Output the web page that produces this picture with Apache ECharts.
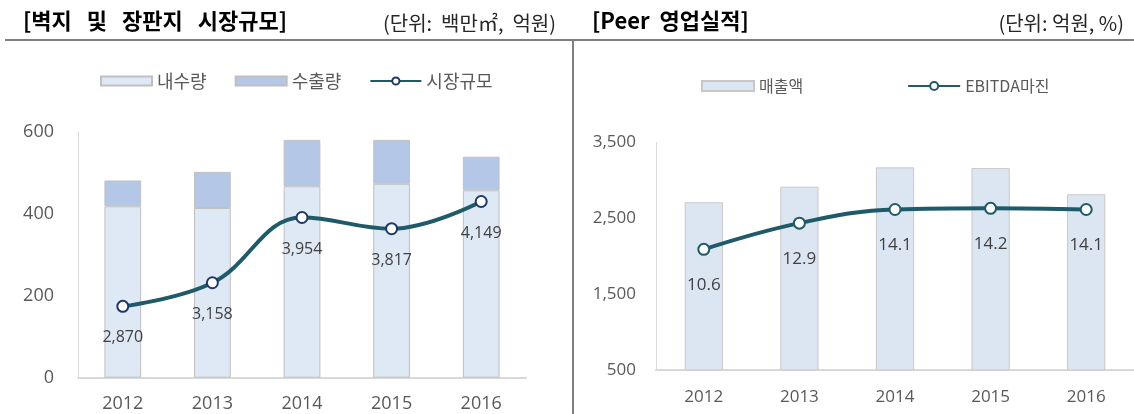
<!DOCTYPE html>
<html>
<head>
<meta charset="utf-8">
<script src="https://cdn.jsdelivr.net/npm/echarts@6/dist/echarts.min.js"></script>
<style>
  html, body { margin: 0; padding: 0; background: #fff; }
  #chart { width: 1134px; height: 414px; }
</style>
</head>
<body>
<div id="chart"></div>
<script>
// 데이터
const years = ['2012', '2013', '2014', '2015', '2016'];
const domestic = [418, 414, 467, 473, 457];      // 내수량 (백만㎡)
const exports = [63, 88, 113, 107, 82];          // 수출량 (백만㎡)
const marketSize = [2870, 3158, 3954, 3817, 4149]; // 시장규모 (억원)
const sales = [2710, 2915, 3170, 3160, 2815];    // 매출액 (억원)
const ebitdaMargin = [10.6, 12.9, 14.1, 14.2, 14.1]; // EBITDA마진 (%)

const leftTicks = [0, 200, 400, 600];
const rightTicks = [500, 1500, 2500, 3500];

const numFont = "'Open Sans', 'Noto Sans CJK KR', sans-serif";
const krFont = "'Noto Sans CJK KR', sans-serif";
const gray = '#595959';
const lineColor = '#1F5A68';

const chart = echarts.init(document.getElementById('chart'));

function fmt(v) {
    return Number(v).toLocaleString('en-US');
}

const option = {
    backgroundColor: '#fff',
    animation: false,
    title: [
        { text: '[벽지   및   장판지   시장규모]', left: 18, top: 5,
          textStyle: { fontFamily: krFont, fontSize: 22, fontWeight: 'bold', color: '#000' } },
        { text: '(단위:  백만㎡,  억원)', right: 573, top: 8,
          textStyle: { fontFamily: krFont, fontSize: 20, fontWeight: 'normal', color: '#262626' } },
        { text: '[Peer  영업실적]', left: 587, top: 5,
          textStyle: { fontFamily: krFont, fontSize: 22, fontWeight: 'bold', color: '#000' } },
        { text: '(단위: 억원, %)', right: 5, top: 8,
          textStyle: { fontFamily: krFont, fontSize: 20, fontWeight: 'normal', color: '#262626' } }
    ],
    graphic: [
        { type: 'line', shape: { x1: 5, y1: 40, x2: 1134, y2: 40 },
          style: { stroke: '#7F7F7F', lineWidth: 2 } },
        { type: 'line', shape: { x1: 573, y1: 40, x2: 573, y2: 414 },
          style: { stroke: '#7F7F7F', lineWidth: 2 } }
    ],
    legend: [
        {
            data: [{ name: '내수량', icon: 'rect' }, { name: '수출량', icon: 'rect' }, '시장규모'],
            left: 95, top: 67,
            itemWidth: 51, itemHeight: 9, itemGap: 28,
            textStyle: { fontFamily: krFont, fontSize: 18, color: gray }
        },
        {
            data: [{ name: '매출액', icon: 'rect' }, 'EBITDA마진'],
            left: 696, top: 73,
            itemWidth: 52, itemHeight: 10, itemGap: 104,
            textStyle: { fontFamily: krFont, fontSize: 16, color: gray }
        }
    ],
    grid: [
        { left: 78, top: 131.7, width: 448, height: 246 },
        { left: 656, top: 142.3, width: 490, height: 227.7 }
    ],
    xAxis: [
        {
            type: 'category', gridIndex: 0, data: years,
            axisLine: { lineStyle: { color: '#D9D9D9', width: 2 } },
            axisTick: { show: false },
            axisLabel: { fontFamily: numFont, fontSize: 18, color: gray, margin: 17 }
        },
        {
            type: 'category', gridIndex: 1, data: years,
            axisLine: { lineStyle: { color: '#D9D9D9', width: 2 } },
            axisTick: { show: false },
            axisLabel: { fontFamily: numFont, fontSize: 17, color: gray, margin: 19 }
        }
    ],
    yAxis: [
        {
            type: 'value', gridIndex: 0,
            min: leftTicks[0], max: leftTicks[leftTicks.length - 1], interval: 200,
            axisLine: { show: true, lineStyle: { color: '#D9D9D9', width: 1 } },
            axisTick: { show: false },
            splitLine: { show: false },
            axisLabel: { fontFamily: numFont, fontSize: 18, color: gray, margin: 24 }
        },
        {
            type: 'value', gridIndex: 0, min: 2000, max: 5000, show: false,
            splitLine: { show: false }
        },
        {
            type: 'value', gridIndex: 1,
            min: rightTicks[0], max: rightTicks[rightTicks.length - 1], interval: 1000,
            axisLine: { show: true, lineStyle: { color: '#D9D9D9', width: 1 } },
            axisTick: { show: false },
            splitLine: { show: false },
            axisLabel: { fontFamily: numFont, fontSize: 17, color: gray, margin: 20,
                         formatter: v => fmt(v) }
        },
        {
            type: 'value', gridIndex: 1, min: 0, max: 20, show: false,
            splitLine: { show: false }
        }
    ],
    series: [
        {
            name: '내수량', type: 'bar', stack: 'vol',
            xAxisIndex: 0, yAxisIndex: 0, barWidth: '41%',
            data: domestic,
            itemStyle: { color: '#DEE9F5', borderColor: '#BFBFBF', borderWidth: 1 }
        },
        {
            name: '수출량', type: 'bar', stack: 'vol',
            xAxisIndex: 0, yAxisIndex: 0, barWidth: '41%',
            data: exports,
            itemStyle: { color: '#B4C7E7', borderColor: '#C0C0C0', borderWidth: 1 }
        },
        {
            name: '시장규모', type: 'line',
            xAxisIndex: 0, yAxisIndex: 1,
            data: marketSize, smooth: 0.4,
            symbol: 'circle', symbolSize: 11,
            lineStyle: { color: lineColor, width: 4 },
            itemStyle: { color: '#fff', borderColor: '#1F3864', borderWidth: 2 },
            label: { show: true, position: 'bottom', distance: 17,
                     fontFamily: numFont, fontSize: 16, color: '#404040',
                     formatter: p => fmt(p.value) },
            z: 5
        },
        {
            name: '매출액', type: 'bar',
            xAxisIndex: 1, yAxisIndex: 2, barWidth: '40%',
            data: sales,
            itemStyle: { color: '#DCE6F2', borderColor: '#C8C8C8', borderWidth: 1 }
        },
        {
            name: 'EBITDA마진', type: 'line',
            xAxisIndex: 1, yAxisIndex: 3,
            data: ebitdaMargin, smooth: 0.4,
            symbol: 'circle', symbolSize: 11,
            lineStyle: { color: lineColor, width: 4 },
            itemStyle: { color: '#fff', borderColor: lineColor, borderWidth: 2 },
            label: { show: true, position: 'bottom', distance: 21,
                     fontFamily: numFont, fontSize: 17, color: '#404040',
                     formatter: p => p.value.toFixed(1) },
            z: 5
        }
    ]
};

chart.setOption(option);
</script>
</body>
</html>
